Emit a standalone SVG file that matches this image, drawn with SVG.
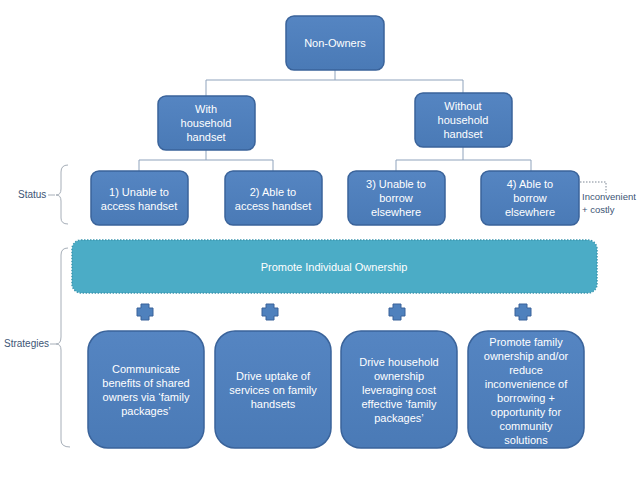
<svg xmlns="http://www.w3.org/2000/svg" width="640" height="480" viewBox="0 0 640 480">
<defs>
<linearGradient id="bg" x1="0" y1="0" x2="0" y2="1">
<stop offset="0" stop-color="#5585C2"/>
<stop offset="1" stop-color="#4A7AB6"/>
</linearGradient>
<style>
.box{fill:url(#bg);stroke:#3A639A;stroke-width:1.5}
.t{font-family:"Liberation Sans",Arial,sans-serif;font-size:11px;fill:#FFFFFF;text-anchor:middle}
.lbl{font-family:"Liberation Sans",Arial,sans-serif;font-size:10px;fill:#3D5575}
.con{fill:none;stroke:#8FA3BC;stroke-width:1}
.br{fill:none;stroke:#A6AEB8;stroke-width:1}
.plus{fill:#4F81BD;stroke:#3A639A;stroke-width:1}
</style>
</defs>
<rect width="640" height="480" fill="#FFFFFF"/>
<g id="connectors">
<path class="con" d="M335 70V80M206 96V80H463V93"/>
<path class="con" d="M206 150V160M139 171V160H273V171"/>
<path class="con" d="M463 147V160M396 171V160H531V171"/>
<path d="M580 182H606V193" fill="none" stroke="#7D8794" stroke-width="1" stroke-dasharray="1.5 1.5"/>
</g>
<g id="brackets">
<path class="br" d="M68 165Q61 165 61 172V189Q61 195 56 195Q61 195 61 201V218Q61 224 68 224"/>
<path class="br" d="M48 195H55"/>
<path class="br" d="M68 248Q61 248 61 255V337Q61 344 56 344Q61 344 61 350V440Q61 447 70 447"/>
<path class="br" d="M50 344H56"/>
</g>
<g id="status-label"><text class="lbl" x="18" y="198">Status</text></g>
<g id="strategies-label"><text class="lbl" x="4" y="347">Strategies</text></g>
<g id="n-nonowners">
<rect class="box" x="286" y="16" width="98" height="54" rx="8"/>
<text class="t" x="335" y="47">Non-Owners</text>
</g>
<g id="n-with">
<rect class="box" x="158" y="96" width="97" height="54" rx="8"/>
<text class="t" x="206" y="113">With</text>
<text class="t" x="206" y="127">household</text>
<text class="t" x="206" y="141">handset</text>
</g>
<g id="n-without">
<rect class="box" x="415" y="93" width="97" height="54" rx="8"/>
<text class="t" x="463" y="110">Without</text>
<text class="t" x="463" y="124">household</text>
<text class="t" x="463" y="138">handset</text>
</g>
<g id="n-s1">
<rect class="box" x="91" y="171" width="97" height="54" rx="8"/>
<text class="t" x="139" y="196">1) Unable to</text>
<text class="t" x="139" y="210">access handset</text>
</g>
<g id="n-s2">
<rect class="box" x="225" y="171" width="97" height="54" rx="8"/>
<text class="t" x="273" y="196">2) Able to</text>
<text class="t" x="273" y="210">access handset</text>
</g>
<g id="n-s3">
<rect class="box" x="348" y="171" width="97" height="54" rx="8"/>
<text class="t" x="396" y="188">3) Unable to</text>
<text class="t" x="396" y="202">borrow</text>
<text class="t" x="396" y="216">elsewhere</text>
</g>
<g id="n-s4">
<rect class="box" x="481" y="171" width="98" height="54" rx="8"/>
<text class="t" x="530" y="188">4) Able to</text>
<text class="t" x="530" y="202">borrow</text>
<text class="t" x="530" y="216">elsewhere</text>
</g>
<g id="n-inconvenient">
<text class="lbl" x="582" y="200" style="font-size:9.5px">Inconvenient</text>
<text class="lbl" x="582" y="213" style="font-size:9.5px">+ costly</text>
</g>
<g id="n-promote">
<rect x="72" y="240" width="525" height="53" rx="9" fill="#4BACC6" stroke="#3C97B0" stroke-width="1.5" stroke-dasharray="1.5 1.5"/>
<text class="t" x="334" y="271">Promote Individual Ownership</text>
</g>
<g id="plus-signs">
<path class="plus" d="M141 304H149V308H153V316H149V320H141V316H137V308H141Z"/>
<path class="plus" d="M266 304H274V308H278V316H274V320H266V316H262V308H266Z"/>
<path class="plus" d="M393 304H401V308H405V316H401V320H393V316H389V308H393Z"/>
<path class="plus" d="M519 304H527V308H531V316H527V320H519V316H515V308H519Z"/>
</g>
<g id="n-st1">
<rect class="box" x="88" y="331" width="116" height="117" rx="20"/>
<text class="t" x="146" y="373">Communicate</text>
<text class="t" x="146" y="387">benefits of shared</text>
<text class="t" x="146" y="401">owners via ‘family</text>
<text class="t" x="146" y="415">packages’</text>
</g>
<g id="n-st2">
<rect class="box" x="215" y="331" width="116" height="117" rx="20"/>
<text class="t" x="273" y="380">Drive uptake of</text>
<text class="t" x="273" y="394">services on family</text>
<text class="t" x="273" y="408">handsets</text>
</g>
<g id="n-st3">
<rect class="box" x="341" y="331" width="116" height="117" rx="20"/>
<text class="t" x="399" y="366">Drive household</text>
<text class="t" x="399" y="380">ownership</text>
<text class="t" x="399" y="394">leveraging cost</text>
<text class="t" x="399" y="408">effective ‘family</text>
<text class="t" x="399" y="422">packages’</text>
</g>
<g id="n-st4">
<rect class="box" x="468" y="331" width="116" height="117" rx="20"/>
<text class="t" x="526" y="346">Promote family</text>
<text class="t" x="526" y="360">ownership and/or</text>
<text class="t" x="526" y="374">reduce</text>
<text class="t" x="526" y="388">inconvenience of</text>
<text class="t" x="526" y="402">borrowing +</text>
<text class="t" x="526" y="416">opportunity for</text>
<text class="t" x="526" y="430">community</text>
<text class="t" x="526" y="444">solutions</text>
</g>
</svg>
